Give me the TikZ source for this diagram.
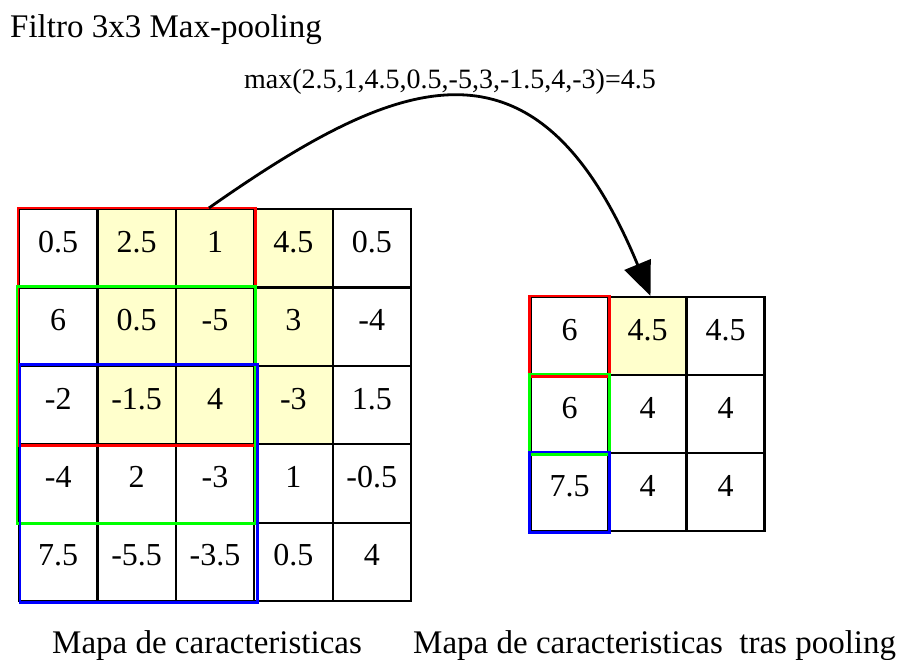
\documentclass[tikz,border=0pt]{standalone}
\usepackage{fontspec}
\setmainfont{Liberation Serif}
\usetikzlibrary{arrows.meta}
\definecolor{cellyellow}{RGB}{255,255,204}

\begin{document}
\begin{tikzpicture}[
  x=1pt, y=-1pt,
  cell/.style={draw, line width=2.2pt, minimum size=78.4pt, inner sep=0pt, font=\fontsize{32}{38}\selectfont, text height=22pt, text depth=14pt},
  outcell/.style={cell, minimum size=78pt},
  frame/.style={line width=2.8pt},
  caption/.style={font=\fontsize{33}{40}\selectfont, anchor=base west, inner sep=0pt}
]
\useasboundingbox (0,0) rectangle (901,659);

% mapa de caracteristicas 5x5
\foreach \row [count=\r from 0] in {{0.5,2.5,1,4.5,0.5},{6,0.5,-5,3,-4},{-2,-1.5,4,-3,1.5},{-4,2,-3,1,-0.5},{7.5,-5.5,-3.5,0.5,4}} {
  \foreach \v [count=\c from 0] in \row {
    \pgfmathtruncatemacro\hl{and(\r<3,and(\c>0,\c<4))}
    \ifnum\hl=1 \def\cellfill{cellyellow}\else\def\cellfill{white}\fi
    \node[cell, fill=\cellfill] (in-\r-\c) at ({19+78.4*(\c+0.5)},{209+78.4*(\r+0.5)}) {\v};
  }
}

% mapa tras pooling 3x3
\foreach \row [count=\r from 0] in {{6,4.5,4.5},{6,4,4},{7.5,4,4}} {
  \foreach \v [count=\c from 0] in \row {
    \pgfmathtruncatemacro\hl{and(\r==0,\c==1)}
    \ifnum\hl=1 \def\cellfill{cellyellow}\else\def\cellfill{white}\fi
    \node[outcell, fill=\cellfill] (out-\r-\c) at ({530.5+78*(\c+0.5)},{297+78*(\r+0.5)}) {\v};
  }
}

% ventanas del filtro
\draw[frame, red] (in-0-0.north west) rectangle (in-2-2.south east);
\draw[frame, green] ([xshift=-1pt]in-1-0.north west) rectangle (in-3-2.south east);
\draw[frame, blue] ([xshift=2pt]in-2-0.north west) rectangle ([xshift=2pt]in-4-2.south east);
\draw[frame, red] (out-0-0.north west) rectangle (out-0-0.south east);
\draw[frame, green] (out-1-0.north west) rectangle (out-1-0.south east);
\draw[frame, blue] (out-2-0.north west) rectangle (out-2-0.south east);

\draw[line width=2.8pt, -{Triangle[length=34pt,width=28pt]}] ([xshift=-6pt]in-0-2.north) .. controls +(187,-131) and +(-115,-278) .. ([xshift=3pt]out-0-1.north);

\node[caption] (title) at (10,37) {Filtro 3x3 Max-pooling};
\node[font=\fontsize{28}{34}\selectfont, anchor=base, inner sep=0pt] (formula) at (450,88) {max(2.5,1,4.5,0.5,-5,3,-1.5,4,-3)=4.5};
\node[caption] (inlabel) at (52,653) {Mapa de caracteristicas};
\node[caption] (outlabel) at (413,653) {Mapa de caracteristicas\ \ tras pooling};
\end{tikzpicture}
\end{document}
